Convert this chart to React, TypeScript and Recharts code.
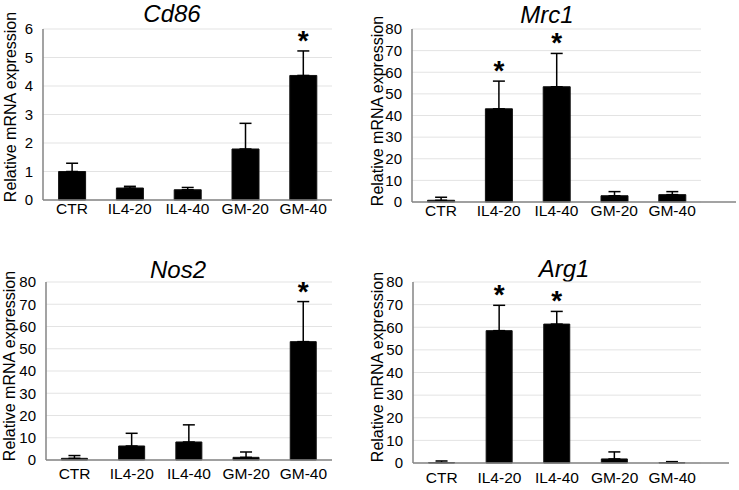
import React from "react";
import {
  BarChart,
  Bar,
  XAxis,
  YAxis,
  CartesianGrid,
  ErrorBar,
  LabelList,
} from "recharts";

const groups = ["CTR", "IL4-20", "IL4-40", "GM-20", "GM-40"];

const cd86Mean = [1.0, 0.42, 0.36, 1.79, 4.37];
const cd86Err = [0.29, 0.06, 0.08, 0.9, 0.86];
const cd86Sig = [false, false, false, false, true];
const cd86Ticks = [0, 1, 2, 3, 4, 5, 6];

const mrc1Mean = [0.8, 43.1, 53.3, 2.9, 3.4];
const mrc1Err = [1.4, 12.8, 15.4, 1.9, 1.4];
const mrc1Sig = [false, true, true, false, false];

const nos2Mean = [0.75, 6.3, 8.1, 1.2, 53.2];
const nos2Err = [1.25, 5.7, 7.7, 2.4, 18.0];
const nos2Sig = [false, false, false, false, true];

const arg1Mean = [0.2, 58.5, 61.4, 1.8, 0.15];
const arg1Err = [0.7, 11.2, 5.6, 3.1, 0.45];
const arg1Sig = [false, true, true, false, false];

const bigTicks = [0, 10, 20, 30, 40, 50, 60, 70, 80];

const FONT = "'Liberation Sans', Arial, sans-serif";
const W = 369;
const H = 245;

type Box = {
  x: number;
  y: number;
  left: number;
  top: number;
  right: number;
  bottom: number;
  axisEnd: number;
  titleX: number;
  titleBase: number;
  labelX: number;
  labelY: number;
  xTickGap: number;
};

function Panel({
  title,
  mean,
  err,
  sig,
  ticks,
  box,
}: {
  title: string;
  mean: number[];
  err: number[];
  sig: boolean[];
  ticks: number[];
  box: Box;
}) {
  const data = groups.map((g, i) => ({
    name: g,
    value: mean[i],
    err: [0, err[i]],
    sig: sig[i] ? 1 : 0,
  }));
  const yMax = ticks[ticks.length - 1];

  return (
    <div style={{ position: "absolute", left: box.x, top: box.y, width: W, height: H }}>
      <div
        style={{
          position: "absolute",
          left: box.titleX,
          top: box.titleBase - 20,
          transform: "translateX(-50%)",
          fontFamily: FONT,
          fontStyle: "italic",
          fontSize: 24,
          lineHeight: "24px",
          whiteSpace: "nowrap",
          color: "#000",
        }}
      >
        {title}
      </div>
      <BarChart
        width={W}
        height={H}
        data={data}
        margin={{ top: box.top, right: W - box.axisEnd, bottom: 0, left: 0 }}
        barCategoryGap="27%"
      >
        <CartesianGrid vertical={false} stroke="#e3e3e3" width={box.right - box.left} />
        <XAxis
          dataKey="name"
          height={H - box.bottom}
          interval={0}
          padding={{ left: 0, right: box.axisEnd - box.right }}
          axisLine={{ stroke: "#858585", strokeWidth: 1.5 }}
          tickLine={false}
          tickSize={0}
          tickMargin={box.xTickGap}
          tick={{ fill: "#000", fontSize: 15.5, fontFamily: FONT }}
        />
        <YAxis
          width={box.left}
          domain={[0, yMax]}
          ticks={ticks}
          interval={0}
          axisLine={{ stroke: "#858585", strokeWidth: 1.5 }}
          tickLine={false}
          tickSize={0}
          tickMargin={10}
          tick={{ fill: "#000", fontSize: 15, fontFamily: FONT }}
          label={{
            content: () => (
              <text
                x={box.labelX}
                y={box.labelY}
                transform={`rotate(-90 ${box.labelX} ${box.labelY})`}
                textAnchor="middle"
                dominantBaseline="central"
                fontSize={16}
                fontFamily={FONT}
                fill="#000"
              >
                Relative mRNA expression
              </text>
            ),
          }}
        />
        <Bar dataKey="value" fill="#000" stroke="#111" isAnimationActive={false}>
          <ErrorBar dataKey="err" direction="y" width={6} stroke="#000" strokeWidth={1.5} />
          <LabelList
            dataKey="sig"
            content={(p: any) => {
              const i = p.index;
              if (!sig[i]) return null;
              const vb = p.viewBox || p;
              const bx = Number(vb.x);
              const by = Number(vb.y);
              const bw = Number(vb.width);
              const bh = Number(vb.height);
              const top = by - (err[i] * bh) / mean[i];
              return (
                <text
                  x={bx + bw / 2}
                  y={top - 1}
                  textAnchor="middle"
                  fontSize={28}
                  fontWeight="bold"
                  fontFamily={FONT}
                  fill="#000"
                >
                  *
                </text>
              );
            }}
          />
        </Bar>
      </BarChart>
    </div>
  );
}

export default function App() {
  return (
    <div
      style={{
        position: "absolute",
        left: 0,
        top: 0,
        width: 739,
        height: 490,
        background: "#fff",
        fontFamily: FONT,
      }}
    >
      <Panel
        title="Cd86"
        mean={cd86Mean}
        err={cd86Err}
        sig={cd86Sig}
        ticks={cd86Ticks}
        box={{ x: 0, y: 0, left: 43, top: 29, right: 332, bottom: 200, axisEnd: 332, titleX: 172, titleBase: 22, labelX: 10, labelY: 107, xTickGap: 3 }}
      />
      <Panel
        title="Mrc1"
        mean={mrc1Mean}
        err={mrc1Err}
        sig={mrc1Sig}
        ticks={bigTicks}
        box={{ x: 369, y: 0, left: 43, top: 29, right: 332, bottom: 202, axisEnd: 367, titleX: 178, titleBase: 23, labelX: 8, labelY: 111, xTickGap: 3 }}
      />
      <Panel
        title="Nos2"
        mean={nos2Mean}
        err={nos2Err}
        sig={nos2Sig}
        ticks={bigTicks}
        box={{ x: 0, y: 245, left: 46, top: 37, right: 332, bottom: 215, axisEnd: 332, titleX: 178, titleBase: 33, labelX: 9, labelY: 121, xTickGap: 8 }}
      />
      <Panel
        title="Arg1"
        mean={arg1Mean}
        err={arg1Err}
        sig={arg1Sig}
        ticks={bigTicks}
        box={{ x: 369, y: 245, left: 44, top: 37, right: 332, bottom: 218, axisEnd: 360, titleX: 195, titleBase: 32, labelX: 8, labelY: 122, xTickGap: 9 }}
      />
    </div>
  );
}
